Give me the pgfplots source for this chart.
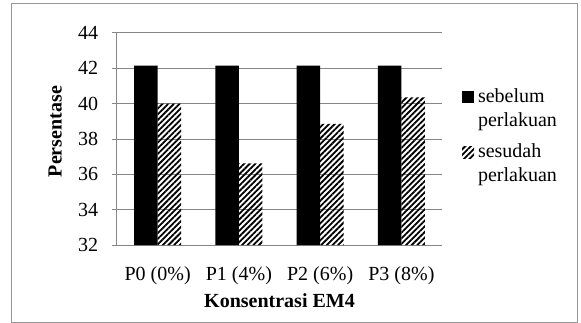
\documentclass[border=0pt]{standalone}
\usepackage{fontspec}
\setmainfont{Liberation Serif}
\usepackage{pgfplots}
\pgfplotsset{compat=1.18}
\usetikzlibrary{patterns.meta}
\definecolor{gridgray}{RGB}{134,134,134}
\definecolor{framegray}{RGB}{150,150,150}
\begin{document}
\fontsize{20bp}{24bp}\selectfont
\begin{tikzpicture}
\useasboundingbox (-117bp,-78bp) rectangle (464bp,245bp);
\draw[framegray, line width=0.9bp] (-105.5bp,-77.5bp) rectangle (460.5bp,241.5bp);
\begin{axis}[
  at={(0bp,0bp)}, anchor=south west,
  scale only axis, width=325bp, height=212bp,
  ybar=0pt, bar width=23.5bp,
  xmin=-0.5, xmax=3.5, ymin=32, ymax=44,
  ytick={32,34,...,44},
  xtick=data,
  xticklabels={P0 (0\%), P1 (4\%), P2 (6\%), P3 (8\%)},
  /pgf/number format/assume math mode=true,
  axis x line*=bottom, axis y line*=left,
  axis line style={gridgray, line width=1bp, -},
  ymajorgrids, grid style={gridgray, line width=1bp},
  major y tick style={gridgray, line width=1bp},
  tick align=outside,
  major tick length=5bp,
  major x tick style={draw=none},
  font=\fontsize{20bp}{24bp}\selectfont,
  xticklabel style={anchor=base, yshift=-30bp},
  yticklabel style={anchor=east, xshift=-7bp},
  xlabel={\bfseries Konsentrasi EM4},
  ylabel={\bfseries Persentase},
  xlabel style={at={(axis description cs:0.5,-0.297)}, anchor=base},
  ylabel style={at={(axis description cs:-0.19,0.535)}, anchor=center, rotate=0},
  legend style={at={(1.061,0.7415)}, anchor=north west, draw=none, fill=none,
    inner sep=0pt, row sep=13bp, column sep=3.5bp,
    nodes={align=left, inner sep=0.5bp, font=\fontsize{20bp}{24bp}\selectfont}},
  legend cell align=left,
  legend image code/.code={\fill[#1] (0bp,5.5bp) rectangle (12bp,17.5bp);},
]
\addplot[fill=black, draw=none] coordinates {(0,42.15) (1,42.15) (2,42.15) (3,42.15)};
\addplot[draw=none, pattern={Lines[angle=45,distance=4bp,line width=1.8bp]}, pattern color=black] coordinates {(0,40.0) (1,36.62) (2,38.85) (3,40.36)};
\legend{sebelum\\perlakuan, sesudah\\perlakuan}
\end{axis}
\end{tikzpicture}
\end{document}
